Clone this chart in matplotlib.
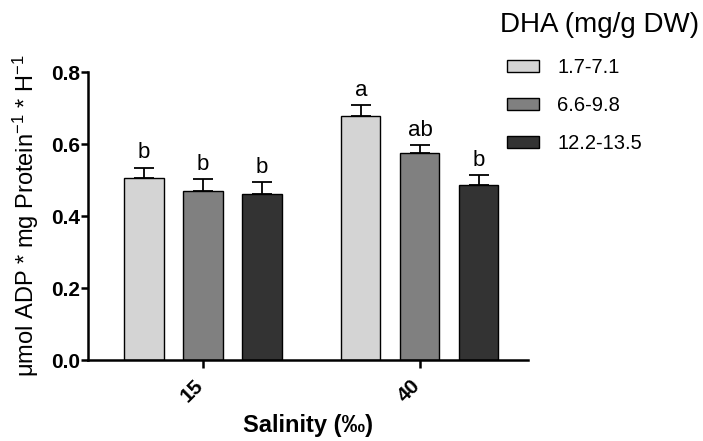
import numpy as np
import matplotlib.pyplot as plt
from matplotlib.transforms import ScaledTranslation

plt.rcParams['font.family'] = ['Liberation Sans', 'DejaVu Sans']
plt.rcParams['mathtext.fontset'] = 'custom'
plt.rcParams['mathtext.rm'] = 'Liberation Sans'
plt.rcParams['mathtext.default'] = 'regular'

salinity = ["15", "40"]
dha_groups = ["1.7-7.1", "6.6-9.8", "12.2-13.5"]
means = [
    [0.505, 0.678],   # 1.7-7.1
    [0.469, 0.575],   # 6.6-9.8
    [0.461, 0.486],   # 12.2-13.5
]
sems = [
    [0.029, 0.030],
    [0.034, 0.022],
    [0.033, 0.028],
]
letters = [
    ["b", "a"],
    ["b", "ab"],
    ["b", "b"],
]
colors = ["#d4d4d4", "#808080", "#333333"]

fig = plt.figure(figsize=(7.03, 4.41), dpi=100)
ax = fig.add_axes([88/703, 1 - 360/441, 440/703, 288/441])

x = np.arange(len(salinity))
offset = 0.272
width = 0.18
for i, grp in enumerate(dha_groups):
    xs = x + (i - 1) * offset
    ax.bar(xs, means[i], width, color=colors[i], edgecolor="black",
           linewidth=1.0, label=grp, zorder=2)
    ax.errorbar(xs, means[i], yerr=[np.zeros(len(xs)), sems[i]], fmt="none",
                ecolor="black", elinewidth=1.3, capsize=7, capthick=1.3, zorder=1)
    for xx, m, s, lab in zip(xs, means[i], sems[i], letters[i]):
        ax.text(xx, m + s + 0.012, lab, ha="center", va="bottom", fontsize=16)

ax.set_xlim(-0.53, 1.498)
ax.set_ylim(0, 0.8)
ax.set_yticks([0.0, 0.2, 0.4, 0.6, 0.8])
ax.set_yticklabels(["0.0", "0.2", "0.4", "0.6", "0.8"], fontweight="bold", fontsize=15)
ax.set_xticks(x)
ax.set_xticklabels(salinity, fontweight="bold", fontsize=15, rotation=45,
                   ha="right", va="center", rotation_mode="anchor")
ax.spines["top"].set_visible(False)
ax.spines["right"].set_visible(False)
ax.spines["left"].set_linewidth(1.8)
ax.spines["bottom"].set_linewidth(1.8)
ax.tick_params(axis="y", width=1.8, length=5, direction="out", pad=1)
ax.tick_params(axis="x", width=1.8, length=6, direction="out", pad=10)
shift = ScaledTranslation(-3/100, 0, fig.dpi_scale_trans)
for lbl in ax.get_xticklabels():
    lbl.set_transform(lbl.get_transform() + shift)

ax.set_xlabel("Salinity (‰)", fontweight="bold", fontsize=17, labelpad=6)
ax.set_ylabel("μmol ADP * mg Protein$^{-1}$ * H$^{-1}$", fontsize=17, labelpad=7)

fig.text(500/703, 1 - 25/441, "DHA (mg/g DW)", fontsize=20, ha="left", va="center")
leg = fig.legend(loc="upper left", bbox_to_anchor=(497/703, 1 - 48/441),
                 fontsize=14.5, frameon=False, handlelength=1.6, handleheight=0.55,
                 labelspacing=0.95, handletextpad=0.9, borderpad=0)

fig.savefig("out.png", dpi=100)
